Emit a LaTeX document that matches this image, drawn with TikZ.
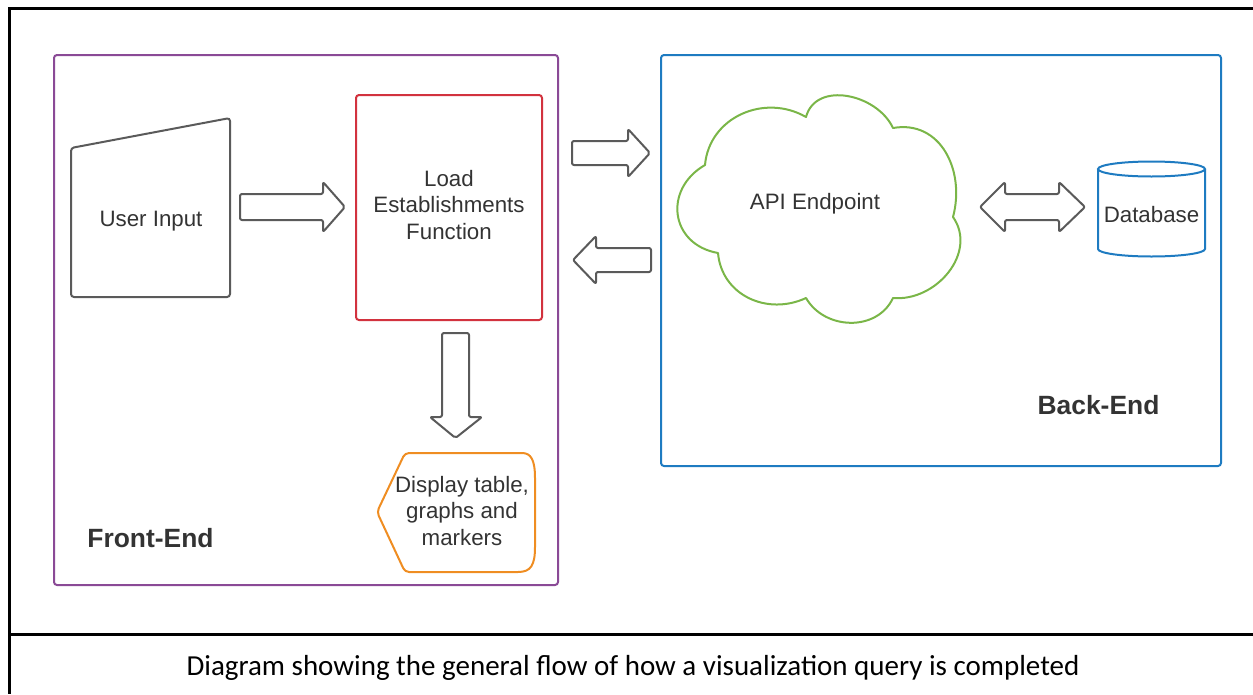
\documentclass[tikz,border=0pt]{standalone}
\usepackage{fontspec}
\setmainfont{Liberation Sans}
\newfontfamily\capfont{Carlito}
\usepackage{tikz}

\definecolor{lucpurple}{HTML}{8A4A96}
\definecolor{lucred}{HTML}{D2323E}
\definecolor{lucblue}{HTML}{1E7BC1}
\definecolor{lucgreen}{HTML}{7AB648}
\definecolor{lucorange}{HTML}{EF8D22}
\definecolor{arrowgray}{HTML}{5A5A5A}
\definecolor{txtgray}{HTML}{333333}

\tikzset{
  boxline/.style = {line width=2pt, rounded corners=3pt},
  blockarrow/.style = {draw=arrowgray, line width=2pt, rounded corners=2pt, line join=round},
  bodytext/.style = {text=txtgray, align=center, font=\fontsize{22.3}{26.5}\selectfont},
  parttext/.style = {text=txtgray, font=\bfseries\fontsize{26.4}{31}\selectfont}
}

\begin{document}
\begin{tikzpicture}[x=1pt, y=-1pt]
\useasboundingbox (0,0) rectangle (1253,694);

\draw[line width=3pt] (1253,8) -- (9,8) -- (9,694);
\draw[line width=3pt] (9,634) -- (1253,634);

\draw[boxline, draw=lucpurple] (54,55) rectangle (558,585);
\draw[boxline, draw=lucblue] (661,55) rectangle (1221,466);

\draw[boxline, draw=arrowgray] (71,148) -- (230,118) -- (230,297) -- (71,297) -- cycle;
\node[bodytext] (ui) at (151,221) {User Input};

\draw[line width=2pt, draw=lucred, rounded corners=3pt] (356,95) rectangle (542,320);
\node[bodytext] (load) at (449,205) {Load\\Establishments\\Function};

\draw[boxline, draw=lucorange, rounded corners=4pt] (405,572) -- (377,512) -- (405,453) -- (518,453)
  [sharp corners] .. controls (531,453) and (535,460) .. (535,478) -- (535,547)
  .. controls (535,565) and (531,572) .. (518,572) [rounded corners=4pt] -- cycle;
\node[bodytext] (disp) at (462,511) {Display table,\\graphs and\\markers};

% cloud, lobe by lobe
\draw[line width=2pt, draw=lucgreen, line join=round]
  (705,165) to[out=85, in=150, looseness=1.1] (806,117)
  to[out=75, in=115, looseness=1.1] (893,128)
  to[out=10, in=75, looseness=1.15] (953,217)
  to[out=305, in=355, looseness=1.1] (893,298)
  to[out=245, in=300, looseness=1.1] (806,298)
  to[out=205, in=275, looseness=1.1] (718,253)
  to[out=170, in=210, looseness=1.4] (705,165) -- cycle;
\node[bodytext] (api) at (815,204) {API Endpoint};

\draw[line width=2pt, draw=lucblue] (1098,169) -- (1098,249)
  arc[start angle=180, end angle=0, x radius=53.5, y radius=7.5] -- (1205,169);
\draw[line width=2pt, draw=lucblue] (1151.5,169) ellipse[x radius=53.5, y radius=7.5];
\node[bodytext] (db) at (1151.5,215) {Database};

\draw[blockarrow] (240,194) -- (323,194) -- (323,182) -- (345,207) -- (323,232) -- (323,220) -- (240,220) -- cycle;
\draw[blockarrow] (442,333) -- (469,333) -- (469,417) -- (482,417) -- (455.5,438) -- (430,417) -- (442,417) -- cycle;
\draw[blockarrow] (572,141) -- (628,141) -- (628,129) -- (650,153) -- (628,177) -- (628,165) -- (572,165) -- cycle;
\draw[blockarrow] (651,248) -- (596,248) -- (596,236) -- (573,260) -- (596,284) -- (596,272) -- (651,272) -- cycle;
\draw[blockarrow] (980,207) -- (1005,182) -- (1005,194) -- (1059,194) -- (1059,182) -- (1085,207)
  -- (1059,232) -- (1059,220) -- (1005,220) -- (1005,232) -- cycle;

\node[parttext] (fe) at (150.5,538) {Front-End};
\node[parttext] (be) at (1098.5,405) {Back-End};

\node[font=\capfont\fontsize{29}{34}\selectfont] (cap) at (633,668)
  {Diagram showing the general flow of how a visualization query is completed};
\end{tikzpicture}
\end{document}
